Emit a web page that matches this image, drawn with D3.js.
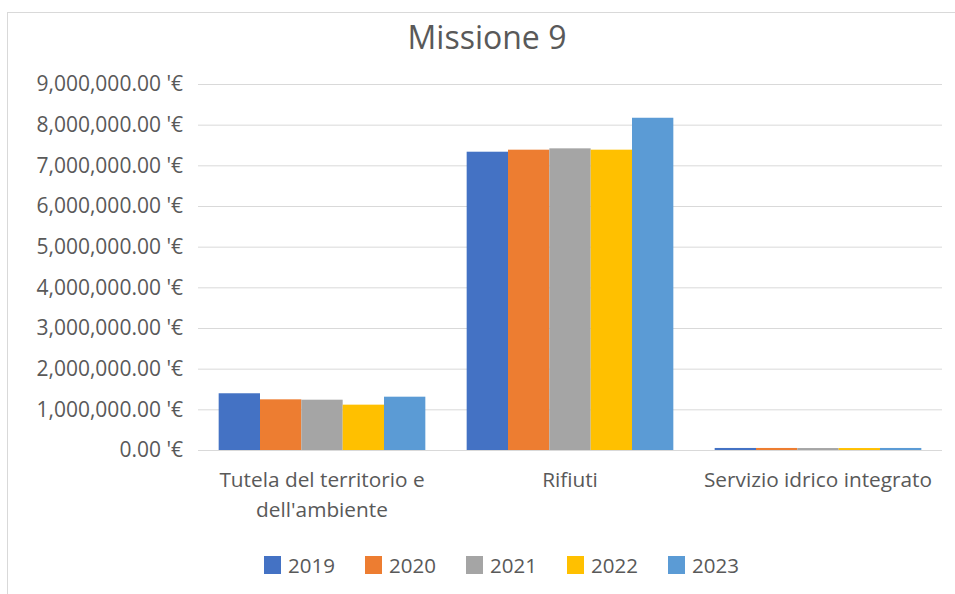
<!DOCTYPE html>
<html>
<head>
<meta charset="utf-8">
<script src="https://cdn.jsdelivr.net/npm/d3@7"></script>
<style>
  body { margin: 0; background: #fff; }
  svg text { font-family: "Open Sans", sans-serif; fill: #595959; }
</style>
</head>
<body>
<svg></svg>
<script>
// data
const categories = ['Tutela del territorio e|dell\'ambiente', 'Rifiuti', 'Servizio idrico integrato']
const years = ['2019', '2020', '2021', '2022', '2023']
const values2019 = [1395000, 7335000, 50000]
const values2020 = [1246000, 7385000, 50000]
const values2021 = [1237000, 7418000, 48000]
const values2022 = [1115000, 7385000, 48000]
const values2023 = [1311000, 8170000, 50000]
const yTicks = [0, 1000000, 2000000, 3000000, 4000000, 5000000, 6000000, 7000000, 8000000, 9000000]
const colors = ['#4472C4', '#ED7D31', '#A5A5A5', '#FFC000', '#5B9BD5']

const series = [values2019, values2020, values2021, values2022, values2023]

const width = 955
const height = 594
const svg = d3.select('svg').attr('width', width).attr('height', height)

// chart frame
svg.append('rect')
    .attr('x', 7.5).attr('y', 12.5)
    .attr('width', 960).attr('height', 600)
    .attr('fill', 'none')
    .attr('stroke', '#D9D9D9')

svg.append('text')
    .attr('x', 487).attr('y', 49)
    .attr('text-anchor', 'middle')
    .style('font-size', '32px')
    .text('Missione 9')

const plotLeft = 198, plotRight = 942, plotTop = 84, plotBottom = 450

const yScale = d3.scaleLinear().domain([0, 9000000]).range([plotBottom, plotTop])
const xScale = d3.scaleBand().domain(categories).range([plotLeft, plotRight])
const inner = d3.scaleBand().domain(years).range([0, xScale.bandwidth()]).paddingOuter(0.5)

const fmt = d3.format(',.2f')

// gridlines + y labels
const yAxis = d3.axisLeft(yScale)
    .tickValues(yTicks)
    .tickSize(-(plotRight - plotLeft))
    .tickPadding(15)
    .tickFormat(d => fmt(d) + " '€")

svg.append('g')
    .attr('transform', 'translate(' + plotLeft + ',0)')
    .call(yAxis)
    .call(g => g.select('.domain').remove())
    .call(g => g.selectAll('line').attr('stroke', '#D9D9D9'))
    .call(g => g.selectAll('text').attr('fill', '#595959').style('font-size', '21px').style('font-family', '"Open Sans", sans-serif'))

// bars
years.forEach((yr, i) => {
    svg.append('g').selectAll('rect')
        .data(series[i])
        .enter()
        .append('rect')
        .attr('x', (d, j) => xScale(categories[j]) + inner(yr))
        .attr('width', inner.bandwidth())
        .attr('y', d => yScale(d))
        .attr('height', d => plotBottom - yScale(d))
        .attr('fill', colors[i])
})

// x labels
categories.forEach(c => {
    const lines = c.split('|')
    const t = svg.append('text')
        .attr('text-anchor', 'middle')
        .style('font-size', '20.8px')
    lines.forEach((l, k) => {
        t.append('tspan')
            .attr('x', xScale(c) + xScale.bandwidth() / 2)
            .attr('y', 487 + k * 30)
            .text(l)
    })
})

// legend
const legend = svg.append('g')
years.forEach((yr, i) => {
    const x = 264 + i * 101
    legend.append('rect')
        .attr('x', x).attr('y', 556)
        .attr('width', 17).attr('height', 18)
        .attr('fill', colors[i])
    legend.append('text')
        .attr('x', x + 24).attr('y', 573)
        .style('font-size', '20.5px')
        .text(yr)
})
</script>
</body>
</html>
